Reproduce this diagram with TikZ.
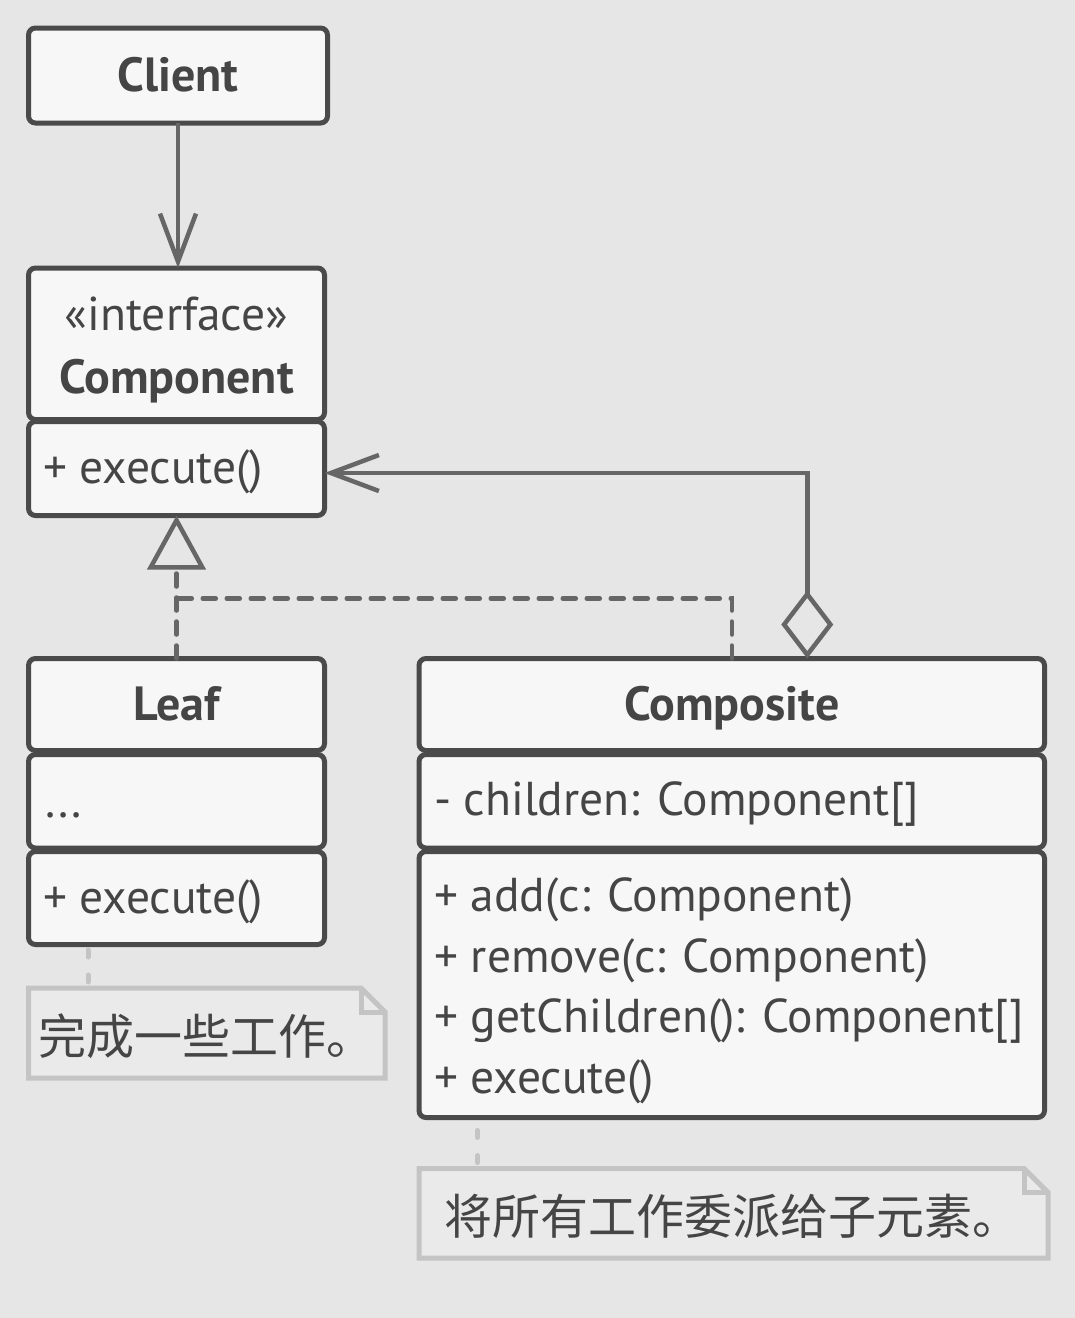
\documentclass[tikz,border=0pt]{standalone}
\usepackage{fontspec}
\setmainfont{PT Sans}
\newfontfamily\cjk{Noto Sans CJK SC}
\usetikzlibrary{positioning,arrows.meta}

\definecolor{bggrey}{HTML}{E6E6E6}
\definecolor{boxwhite}{HTML}{F7F7F7}
\definecolor{boxdark}{HTML}{4A4A4A}
\definecolor{linegrey}{HTML}{666666}
\definecolor{inkgrey}{HTML}{454545}
\definecolor{notegrey}{HTML}{C4C4C4}
\definecolor{notefill}{HTML}{EAEAEA}

\tikzset{
  compart/.style={draw=boxdark, fill=boxwhite, line width=5pt, rounded corners=7pt,
    inner sep=0pt, outer sep=0pt, anchor=north west},
  uml/.style={text=inkgrey, inner sep=0pt, font=\fontsize{47.5}{57}\selectfont},
  umlbold/.style={uml, font=\fontsize{48}{57}\selectfont\bfseries},
  umlcjk/.style={uml, font=\cjk\fontsize{48}{57}\selectfont},
  notebox/.style={inner sep=0pt, outer sep=0pt, anchor=north west},
  noteline/.style={draw=notegrey, fill=notefill, line width=5pt},
  noteconn/.style={draw=notegrey, line width=5pt, line cap=round,
    dash pattern=on 7pt off 18pt, dash phase=19pt},
  assoc/.style={draw=linegrey, line width=4.5pt,
    -{Straight Barb[length=48pt, width=36pt]}},
  aggr/.style={draw=linegrey, line width=4.5pt,
    {Diamond[open, length=68pt, width=52pt]}-{Straight Barb[length=48pt, width=36pt]}},
  realize/.style={draw=linegrey, line width=4.5pt, line cap=round,
    dash pattern=on 13pt off 11pt},
}

\begin{document}
\begin{tikzpicture}[x=1pt, y=-1pt]
  \fill[bggrey] (0,0) rectangle (1075,1318);
  \useasboundingbox (0,0) rectangle (1075,1318);

  % client
  \node[compart, minimum width=299pt, minimum height=95pt] (client) at (28.5,28) {};
  \node[umlbold, anchor=base] (client-t) at (178,91) {Client};

  % component interface
  \node[compart, minimum width=296pt, minimum height=151.5pt] (comp-head) at (28.5,268) {};
  \node[compart, minimum width=296pt, minimum height=94pt] (comp-ops) at (28.5,421.5) {};
  \node[uml, anchor=base] (comp-st) at (176.5,330) {«interface»};
  \node[umlbold, anchor=base] (comp-t) at (176.5,393) {Component};
  \node[uml, anchor=base west] (comp-op) at (43,483) {+ execute()};

  % leaf
  \node[compart, minimum width=296pt, minimum height=92pt] (leaf-head) at (28.5,658.5) {};
  \node[compart, minimum width=296pt, minimum height=93.5pt] (leaf-attr) at (28.5,754.5) {};
  \node[compart, minimum width=296pt, minimum height=93pt] (leaf-ops) at (28.5,851.5) {};
  \node[umlbold, anchor=base] (leaf-t) at (176.5,720.5) {Leaf};
  \node[uml, anchor=base west] (leaf-at) at (45,817) {...};
  \node[uml, anchor=base west] (leaf-op) at (43,913) {+ execute()};

  % composite
  \node[compart, minimum width=625.5pt, minimum height=92pt] (compo-head) at (419,658.5) {};
  \node[compart, minimum width=625.5pt, minimum height=93.5pt] (compo-attr) at (419,754.5) {};
  \node[compart, minimum width=625.5pt, minimum height=266pt] (compo-ops) at (419,851.5) {};
  \node[umlbold, anchor=base] (compo-t) at (731.75,720) {Composite};
  \node[uml, anchor=base west] (compo-at) at (434,815.5) {- children: Component[]};
  \foreach \op [count=\i from 0] in {+ add(c: Component), + remove(c: Component),
      + getChildren(): Component[], + execute()}
    \node[uml, anchor=base west] (compo-op\i) at (434,{911.7+60.5*\i}) {\op};

  % notes
  \node[notebox, minimum width=356.5pt, minimum height=90pt] (note1) at (28.5,988) {};
  \draw[noteline] (note1.north west) -- ([xshift=-24pt]note1.north east)
    -- ([yshift=-24pt]note1.north east) -- (note1.south east) -- (note1.south west) -- cycle;
  \draw[notegrey, line width=5pt] ([xshift=-24pt]note1.north east) |- ([yshift=-24pt]note1.north east);
  \node[umlcjk, anchor=base west] (note1-t) at (38,1054) {完成一些工作。};

  \node[notebox, minimum width=629pt, minimum height=89.5pt] (note2) at (419,1168.5) {};
  \draw[noteline] (note2.north west) -- ([xshift=-24pt]note2.north east)
    -- ([yshift=-24pt]note2.north east) -- (note2.south east) -- (note2.south west) -- cycle;
  \draw[notegrey, line width=5pt] ([xshift=-24pt]note2.north east) |- ([yshift=-24pt]note2.north east);
  \node[umlcjk, anchor=base west] (note2-t) at (444,1234) {将所有工作委派给子元素。};

  \coordinate (n1) at ([xshift=59.5pt]note1.north west);
  \coordinate (n2) at ([xshift=58.5pt]note2.north west);
  \draw[noteconn] (n1) -- (n1 |- leaf-ops.south);
  \draw[noteconn] (n2) -- (n2 |- compo-ops.south);

  % connectors
  \draw[assoc] (client.south) -- (client.south |- comp-head.north);
  \coordinate (jn) at ([yshift=60pt]leaf-head.north);
  \draw[realize, -{Triangle[open, length=54pt, width=58pt]}] (leaf-head.north) -- (comp-ops.south);
  \draw[realize] (compo-head.north) |- (jn);
  \draw[aggr] ([xshift=75.5pt]compo-head.north) |- ([yshift=-4.5pt]comp-ops.east);
\end{tikzpicture}
\end{document}
